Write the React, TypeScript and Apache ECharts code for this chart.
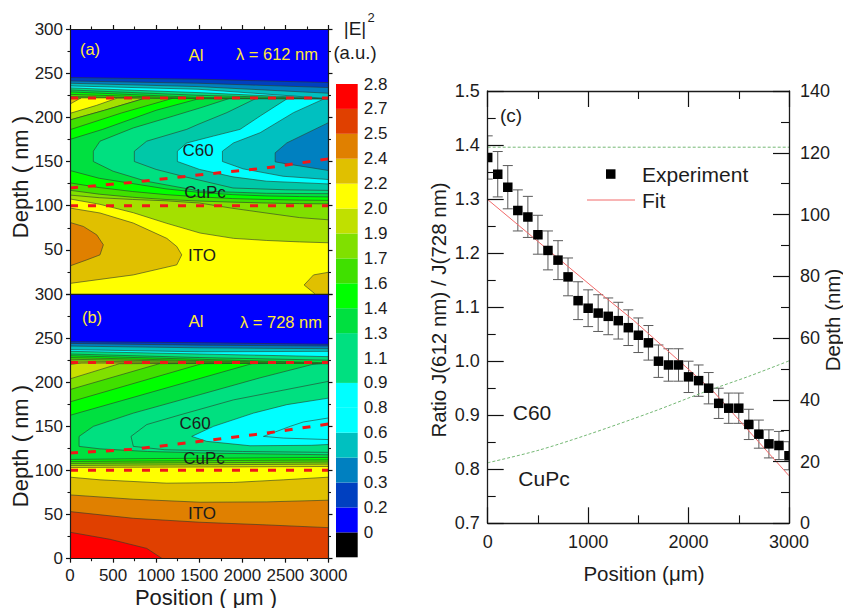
import React, { useEffect, useRef } from "react";
import * as echarts from "echarts";

type P = number[];
const FONT = "'Liberation Sans', Arial, sans-serif";
const INK = "#1c1c1c";
const YELLOW_TEXT = "#ffe838";
const LINE_TOP = 222;

// ---------- colour scale ----------
const colorbarColors = ["#000000", "#0000ff", "#0040c0", "#0080c0", "#00c0c0", "#00ffff", "#00ffff", "#00e080", "#00e080", "#00e040", "#00ff00", "#40e000", "#80e000", "#c0e000", "#ffff00", "#e0c000", "#e08000", "#e04000", "#ff0000"];
const colorbarLabels = ["", "0", "0.2", "0.3", "0.5", "0.6", "0.8", "0.9", "1.1", "1.3", "1.4", "1.6", "1.7", "1.9", "2.0", "2.2", "2.4", "2.5", "2.7", "2.8"];

// ---------- panel (a), lambda = 612 nm : [position, depth] ----------
const aItoBlob1: P[] = [[0, 97.3], [348, 91.7], [735, 80.3], [1123, 63], [1239, 53.8], [1297, 44.3], [1239, 33], [735, 21.6], [0, 12]];
const aItoBlob2: P[] = [[0, 81], [155, 76.5], [310, 67], [387, 55.7], [348, 44.3], [194, 38.6], [0, 31.8]];
const aCornerBlob: P[] = [[3000, 24.6], [2826, 21.6], [2717, 10.2], [2845, 0], [3000, 0]];

const aLowYellow: P[] = [[0, 107.6], [348, 101.5], [735, 92], [1123, 80], [1510, 69], [1897, 63], [2284, 60.6], [2663, 59], [3000, 58]];
const aLow80: P[] = [[0, 112], [340, 109], [728, 107], [1115, 105.5], [1501, 103], [1889, 97], [2276, 91.7], [2663, 86.5], [3000, 84]];
const aLow40: P[] = [[0, 117.4], [340, 113], [728, 109.5], [1115, 107], [1501, 105.2], [1889, 104], [2276, 103], [2663, 102.3], [3000, 102]];
const aLow00: P[] = [[0, 125.8], [340, 120.5], [728, 116], [1115, 112.5], [1501, 110], [1889, 108], [2276, 107], [2663, 106.3], [3000, 106]];
const aLowE040: P[] = [[0, 139.8], [340, 131], [728, 125], [1115, 119], [1501, 115], [1889, 112.5], [2276, 111], [2663, 110.3], [3000, 109.9]];
const aLowA1: P[] = [[271, 150], [500, 139], [884, 127.7], [1504, 116.6], [2280, 114], [3000, 113.6]];
const aLowA2: P[] = [[747, 150], [1000, 141], [1310, 133.3], [1892, 120], [2500, 118], [3000, 117.3]];
const aLowA3: P[] = [[1246, 150], [1504, 141], [1892, 132.6], [2280, 127.7], [3000, 124.6]];
const aLowA4: P[] = [[1769, 150], [2008, 141.7], [2473, 133.3], [3000, 129.6]];
const aLowA5: P[] = [[2381, 149.6], [2516, 147.3], [3000, 139.8]];

const aArmCorner: P[] = [[0, 215], [128, 222]];
const aArmYellow: P[] = [[0, 204.5], [310, 213.6], [554, 222]];
const aArm197: P[] = [[0, 197], [400, 208], [883, 222]];
const aArm186: P[] = [[0, 186], [600, 205], [1208, 222]];
const aArm175: P[] = [[0, 175], [380, 186.4], [1000, 208], [1530, 222]];
const aArmA1: P[] = [[271, 161.7], [348, 173], [735, 188], [1200, 201.5], [1521, 211], [1870, 222]];
const aArmA2: P[] = [[747, 161.7], [890, 173], [1355, 186.4], [1486, 192], [1820, 205.3], [2172, 222]];
const aArmA3: P[] = [[1246, 161.7], [1355, 171], [1665, 178.8], [1974, 186.4], [2207, 201.5], [2535, 222]];
const aArmA4: P[] = [[1769, 161.7], [1897, 171], [2207, 182.6], [2594, 205.3], [2973, 222]];
const aArmA5: P[] = [[2381, 159.8], [2516, 171], [3000, 194]];

const aTopPos = [0, 1486, 3000];
const aTopColors = ["#40e000", "#00ff00", "#00e040", "#00e080", "#00ffff", "#00c0c0", "#0080c0", "#0040c0", "#0000ff"];
const aTopDepths = [
  [223.5, 221, 221], [226, 221.5, 221], [228.8, 222.5, 221], [231, 225, 221], [233.3, 228, 221.2],
  [235.6, 231.8, 221.3], [238.6, 234.8, 227.3], [241.2, 238.6, 233.7], [245, 243.2, 239.4],
];
const aDashTop: P[] = [[0, 222], [3000, 222]];
const aDashMid: P[] = [[0, 120], [735, 126.5], [1510, 135], [2284, 142.8], [3000, 153]];
const aDashLow: P[] = [[0, 100], [3000, 100]];

// ---------- panel (b), lambda = 728 nm ----------
const bRedBlob: P[] = [[0, 30], [465, 22], [890, 11.7], [1072, 0], [0, 0]];
const bIto: P[][] = [
  [[0, 53.4], [735, 45.8], [1510, 41.3], [2284, 38.3], [3000, 35.2]],
  [[0, 72.3], [735, 67.4], [1510, 64], [2284, 64.4], [3000, 66.3]],
  [[0, 92.4], [348, 89.4], [1123, 85.6], [1897, 86.4], [2477, 89.4], [3000, 92.4]],
];
const bItoColors = ["#e08000", "#e0c000", "#ffff00"];

const bLowC0: P[] = [[0, 103.4], [3000, 104.5]];
const bLow80: P[] = [[0, 105.7], [3000, 107.2]];
const bLow40: P[] = [[0, 108], [3000, 109.5]];
const bLow00: P[] = [[0, 110.2], [3000, 112]];
const bLowE040: P[] = [[0, 112.5], [1000, 113.5], [3000, 114.8]];
const bLowA1: P[] = [[105, 127.3], [348, 124.5], [900, 121.5], [1700, 119.5], [3000, 117.8]];
const bLowA2: P[] = [[735, 127.3], [1100, 123.5], [2000, 121.5], [3000, 120.5]];
const bLowA3: P[] = [[1413, 138.6], [1587, 133], [2090, 128], [2800, 128.5], [3000, 129.5]];
const bLowA4: P[] = [[2245, 138.6], [2477, 136.7], [3000, 135]];

const bArmC0: P[] = [[0, 220], [135, 222]];
const bArm80: P[] = [[0, 203.8], [573, 221]];
const bArm40: P[] = [[0, 191.7], [1037, 221]];
const bArm00: P[] = [[0, 177.7], [1529, 221]];
const bArmE040: P[] = [[0, 162.5], [2110, 221]];
const bArmA1: P[] = [[105, 138.6], [271, 150], [735, 165], [1510, 186], [2206, 205], [2806, 220]];
const bArmA2: P[] = [[708, 138.6], [890, 152], [1277, 163], [1897, 180], [3000, 201]];
const bArmA3: P[] = [[1665, 150], [2129, 165], [2516, 174.6], [3000, 182]];
const bArmA4: P[] = [[2555, 150], [2710, 155], [3000, 159.5]];

const bTopPos = [0, 1500, 3000];
const bTopColors = ["#80e000", "#40e000", "#00ff00", "#00e040", "#00e080", "#00ffff", "#00c0c0", "#0080c0", "#0040c0", "#0000ff"];
const bTopDepths = [
  [224, 222.5, 221], [226, 223.5, 221], [228, 224.5, 221.5], [230, 226, 222], [232, 228, 225],
  [235, 232, 229], [237, 234.5, 235], [241, 239, 238], [244, 242, 241], [246, 244.8, 243],
];
const bDashTop: P[] = [[0, 222.5], [3000, 222.5]];
const bDashMid: P[] = [[0, 119.7], [735, 124], [1510, 133], [2284, 142.4], [3000, 152.6]];
const bDashLow: P[] = [[0, 100.3], [3000, 100.3]];

// ---------- panel (c) ----------
const positions = [0, 100, 200, 300, 400, 500, 600, 700, 800, 900, 1000, 1100, 1200, 1300, 1400, 1500, 1600, 1700, 1800, 1900, 2000, 2100, 2200, 2300, 2400, 2500, 2600, 2700, 2800, 2900, 3000];
const ratios = [1.377, 1.346, 1.322, 1.279, 1.267, 1.234, 1.205, 1.187, 1.156, 1.112, 1.098, 1.089, 1.083, 1.075, 1.062, 1.048, 1.034, 1.0, 0.993, 0.993, 0.971, 0.964, 0.95, 0.922, 0.913, 0.913, 0.883, 0.865, 0.847, 0.844, 0.825];
const errors = [0.04, 0.042, 0.04, 0.038, 0.038, 0.036, 0.036, 0.036, 0.035, 0.035, 0.034, 0.034, 0.034, 0.034, 0.033, 0.032, 0.032, 0.03, 0.03, 0.03, 0.029, 0.029, 0.029, 0.028, 0.028, 0.028, 0.028, 0.026, 0.026, 0.026, 0.026];
const fitLine: P[] = [[0, 1.299], [1118, 1.126], [1450, 1.076], [2247, 0.944], [3000, 0.788]];
const depthTop: P[] = [[0, 121.8], [3000, 121.8]];
const depthInterface: P[] = [[0, 19.6], [500, 23.6], [986, 28.6], [1650, 36.2], [2147, 42.4], [2600, 47.6], [3000, 52.6]];

// ---------- helpers ----------
type Region = { pts: P[]; fill: string };
const loop = (low: P[], arm: P[], fill: string, close = true): Region => ({
  pts: [...[...low].reverse(), ...arm, ...(close ? [[3000, LINE_TOP]] : [])],
  fill,
});
const stack = (low: P[], fill: string): Region => ({ pts: [...low, [3000, 300], [0, 300]], fill });
const curve = (xs: number[], ds: number[]): P[] => xs.map((x, i) => [x, ds[i]]);

const regionsA: Region[] = [
  { pts: [[0, 0], [3000, 0], [3000, 300], [0, 300]], fill: "#ffff00" },
  { pts: aItoBlob1, fill: "#e0c000" },
  { pts: aItoBlob2, fill: "#e08000" },
  { pts: aCornerBlob, fill: "#e0c000" },
  loop(aLowYellow, aArmYellow, "#a4e000"),
  loop(aLow80, aArm197, "#80e000"),
  loop(aLow40, aArm197, "#40e000"),
  loop(aLow00, aArm186, "#00ff00"),
  loop(aLowE040, aArm175, "#00e040"),
  loop(aLowA1, aArmA1, "#00e080"),
  loop(aLowA2, aArmA2, "#00c8a8"),
  loop(aLowA3, aArmA3, "#00ffff"),
  loop(aLowA4, aArmA4, "#00c0c0"),
  loop(aLowA5, aArmA5, "#0080c0", false),
  { pts: [[0, 215], ...aArmCorner.slice(1), [0, 222]], fill: "#e0c000" },
  stack([[0, LINE_TOP], [3000, LINE_TOP]], "#60d000"),
  ...aTopColors.map((c, i) => stack(curve(aTopPos, aTopDepths[i]), c)),
];

const regionsB: Region[] = [
  { pts: [[0, 0], [3000, 0], [3000, 300], [0, 300]], fill: "#e04000" },
  { pts: bRedBlob, fill: "#ff0000" },
  ...bItoColors.map((c, i) => stack(bIto[i], c)),
  loop(bLowC0, bArmC0, "#c8e000"),
  loop(bLow80, bArm80, "#80e000"),
  loop(bLow40, bArm40, "#40e000"),
  loop(bLow00, bArm00, "#00ff00"),
  loop(bLowE040, bArmE040, "#00e040"),
  loop(bLowA1, bArmA1, "#00e080"),
  loop(bLowA2, bArmA2, "#00e080", false),
  loop(bLowA3, bArmA3, "#00ffff", false),
  loop(bLowA4, bArmA4, "#00ffff", false),
  stack([[0, LINE_TOP], [3000, LINE_TOP]], "#c0e000"),
  ...bTopColors.map((c, i) => stack(curve(bTopPos, bTopDepths[i]), c)),
];

const contourSeries = (regions: Region[], idx: number) => ({
  type: "custom",
  xAxisIndex: idx,
  yAxisIndex: idx,
  clip: true,
  silent: true,
  z: 2,
  data: regions.map((_, i) => [i, 0]),
  renderItem: (params: any, api: any) => {
    const r = regions[params.dataIndex];
    return {
      type: "polygon",
      shape: { points: r.pts.map((p) => api.coord(p)) },
      style: { fill: r.fill, stroke: "#2c3a2c", lineWidth: 0.6 },
    };
  },
});

// grid boxes
const boxA = { left: 70, top: 29, width: 258.5, height: 265 };
const boxB = { left: 70, top: 294, width: 258.5, height: 264.7 };
const boxC = { left: 487.7, top: 91, width: 301.3, height: 432.3 };
const boxBar = { left: 336, top: 84, width: 21.7, height: 473.3 };

const dash = (data: P[], idx: number) => ({
  type: "line",
  xAxisIndex: idx,
  yAxisIndex: idx,
  data,
  symbol: "none",
  silent: true,
  z: 5,
  lineStyle: { color: "#f01818", width: 3, type: [8, 10] },
});

const tickFont = (size: number) => ({ show: true, fontFamily: FONT, fontSize: size, color: INK });
const plain = (v: number) => String(v);

const axisBase = (width: number) => ({
  type: "value",
  z: 10,
  splitLine: { show: false },
  axisLine: { show: true, onZero: false, lineStyle: { color: INK, width } },
  axisTick: { show: false },
  minorTick: { show: false },
  axisLabel: { show: false },
});
const contourX = (grid: number, position: string, opts: any = {}) => ({
  ...axisBase(1.2), gridIndex: grid, position, min: 0, max: 3000, interval: 500, ...opts,
});
const contourY = (grid: number, position: string, opts: any = {}) => ({
  ...axisBase(1.2), gridIndex: grid, position, min: 0, max: 300, interval: 50, ...opts,
});

const label = (text: string, x: number, y: number, size: number, fill = INK, rotate = 0, align = "center") => ({
  type: "text",
  x,
  y,
  rotation: rotate,
  z: 30,
  silent: true,
  style: { text, fill, fontSize: size, fontFamily: FONT, align, verticalAlign: "middle" },
});

// ---------- transparent second chart on top: native axis ticks only ----------
const tickAxis = (grid: number, position: string, min: number, max: number, interval: number, major: number, minor: number, inside: boolean) => ({
  type: "value",
  gridIndex: grid,
  position,
  min,
  max,
  interval,
  splitLine: { show: false },
  axisLine: { show: false, onZero: false },
  axisLabel: { show: false },
  axisTick: { show: true, inside, length: major, lineStyle: { color: "#111111", width: 1.2 } },
  minorTick: { show: true, splitNumber: 2, length: minor, lineStyle: { color: "#111111", width: 1.1 } },
});
const noTickAxis = (grid: number, position: string, min: number, max: number) => ({
  type: "value",
  gridIndex: grid,
  position,
  min,
  max,
  splitLine: { show: false },
  axisLine: { show: false, onZero: false },
  axisLabel: { show: false },
  axisTick: { show: false },
  minorTick: { show: false },
});
const buildTickOption = () => ({
  animation: false,
  grid: [boxA, boxB, boxC],
  xAxis: [
    tickAxis(0, "top", 0, 3000, 500, 4, 2.5, false),
    tickAxis(1, "bottom", 0, 3000, 500, 4, 2.5, false),
    tickAxis(2, "bottom", 0, 3000, 1000, 16, 8, true),
    tickAxis(2, "top", 0, 3000, 1000, 16, 8, true),
  ],
  yAxis: [
    tickAxis(0, "left", 0, 300, 50, 4, 2.5, false),
    tickAxis(0, "right", 0, 300, 50, 4, 2.5, false),
    tickAxis(1, "left", 0, 300, 50, 4, 2.5, false),
    tickAxis(1, "right", 0, 300, 50, 4, 2.5, false),
    tickAxis(2, "left", 0.7, 1.5, 0.1, 16, 8, true),
    tickAxis(2, "right", 0, 140, 20, 16, 8, true),
  ],
  series: [
    { type: "line", xAxisIndex: 0, yAxisIndex: 0, data: [], silent: true },
    { type: "line", xAxisIndex: 0, yAxisIndex: 1, data: [], silent: true },
    { type: "line", xAxisIndex: 1, yAxisIndex: 2, data: [], silent: true },
    { type: "line", xAxisIndex: 1, yAxisIndex: 3, data: [], silent: true },
    { type: "line", xAxisIndex: 2, yAxisIndex: 4, data: [], silent: true },
    { type: "line", xAxisIndex: 3, yAxisIndex: 5, data: [], silent: true },
  ],
});

const buildOption = () => ({
  animation: false,
  backgroundColor: "#ffffff",
  textStyle: { fontFamily: FONT },
  grid: [boxA, boxB, boxC, boxBar],
  xAxis: [
    contourX(0, "bottom"),
    contourX(0, "top"),
    contourX(1, "bottom", { axisLabel: { ...tickFont(17), margin: 8, formatter: plain } }),
    contourX(1, "top"),
    { ...axisBase(1.3), gridIndex: 2, position: "bottom", min: 0, max: 3000, interval: 1000, axisLabel: { ...tickFont(18), margin: 10, formatter: plain } },
    { ...axisBase(1.3), gridIndex: 2, position: "top", min: 0, max: 3000, interval: 1000 },
    { type: "value", gridIndex: 3, min: 0, max: 1, show: false },
  ],
  yAxis: [
    contourY(0, "left", { axisLabel: { ...tickFont(17), margin: 7, formatter: (v: number) => (v === 0 ? "" : String(v)) } }),
    contourY(0, "right"),
    contourY(1, "left", { axisLabel: { ...tickFont(17), margin: 7 } }),
    contourY(1, "right"),
    { ...axisBase(1.3), gridIndex: 2, position: "left", min: 0.7, max: 1.5, interval: 0.1, axisLabel: { ...tickFont(18), margin: 8, formatter: (v: number) => v.toFixed(1) } },
    { ...axisBase(1.3), gridIndex: 2, position: "right", min: 0, max: 140, interval: 20, axisLabel: { ...tickFont(18), margin: 11 } },
    {
      type: "value",
      gridIndex: 3,
      position: "right",
      min: 0,
      max: 19,
      interval: 1,
      splitLine: { show: false },
      axisLine: { show: false },
      axisTick: { show: false },
      axisLabel: { ...tickFont(17), margin: 6, padding: [3, 0, 0, 0], formatter: (v: number) => colorbarLabels[v] ?? "" },
    },
  ],
  series: [
    contourSeries(regionsA, 0),
    dash(aDashTop, 0),
    dash(aDashMid, 0),
    dash(aDashLow, 0),
    contourSeries(regionsB, 2),
    dash(bDashTop, 2),
    dash(bDashMid, 2),
    dash(bDashLow, 2),
    {
      type: "custom",
      xAxisIndex: 6,
      yAxisIndex: 6,
      silent: true,
      data: colorbarColors.map((_, i) => [0, i]),
      renderItem: (params: any, api: any) => {
        const i = params.dataIndex;
        const a = api.coord([0, i]);
        const b = api.coord([1, i + 1]);
        return { type: "rect", shape: { x: a[0], y: b[1], width: b[0] - a[0], height: a[1] - b[1] }, style: { fill: colorbarColors[i] } };
      },
    },
    {
      type: "custom",
      xAxisIndex: 4,
      yAxisIndex: 4,
      clip: true,
      silent: true,
      z: 3,
      data: positions.map((x, i) => [x, ratios[i] - errors[i], ratios[i] + errors[i]]),
      renderItem: (_: any, api: any) => {
        const lo = api.coord([api.value(0), api.value(1)]);
        const hi = api.coord([api.value(0), api.value(2)]);
        const s = { stroke: "#5a5a5a", lineWidth: 1 };
        return {
          type: "group",
          children: [
            { type: "line", shape: { x1: lo[0], y1: lo[1], x2: hi[0], y2: hi[1] }, style: s },
            { type: "line", shape: { x1: lo[0] - 5, y1: lo[1], x2: lo[0] + 5, y2: lo[1] }, style: s },
            { type: "line", shape: { x1: hi[0] - 5, y1: hi[1], x2: hi[0] + 5, y2: hi[1] }, style: s },
          ],
        };
      },
    },
    {
      name: "Fit",
      type: "line",
      xAxisIndex: 4,
      yAxisIndex: 4,
      data: fitLine,
      symbol: "none",
      z: 4,
      lineStyle: { color: "#f26a6a", width: 1 },
    },
    {
      name: "Experiment",
      type: "custom",
      xAxisIndex: 4,
      yAxisIndex: 4,
      clip: true,
      silent: true,
      z: 5,
      data: positions.map((x, i) => [x, ratios[i]]),
      renderItem: (_: any, api: any) => {
        const c = api.coord([api.value(0), api.value(1)]);
        return { type: "rect", shape: { x: c[0] - 4.75, y: c[1] - 4.75, width: 9.5, height: 9.5 }, style: { fill: "#000000" } };
      },
    },
    { type: "line", xAxisIndex: 5, yAxisIndex: 5, data: depthTop, symbol: "none", z: 3, lineStyle: { color: "#74b874", width: 1, type: [3, 2] } },
    { type: "line", xAxisIndex: 5, yAxisIndex: 5, data: depthInterface, symbol: "none", smooth: 0.3, z: 3, lineStyle: { color: "#74b874", width: 1, type: [3, 2] } },
  ],
  graphic: [
    label("(a)", 90, 49, 16.5, YELLOW_TEXT),
    label("Al", 196, 55, 17, YELLOW_TEXT),
    label("λ = 612 nm", 277, 54, 16.5, YELLOW_TEXT),
    label("C60", 198, 150, 17),
    label("CuPc", 205, 192, 17),
    label("ITO", 202, 255, 17),
    label("(b)", 92, 317, 16.5, YELLOW_TEXT),
    label("Al", 196, 321, 17, YELLOW_TEXT),
    label("λ = 728 nm", 281, 322, 16.5, YELLOW_TEXT),
    label("C60", 195, 423, 17),
    label("CuPc", 204, 458, 17),
    label("ITO", 202, 513, 17),
    label("Depth ( nm )", 20, 177, 22, INK, Math.PI / 2),
    label("Depth ( nm )", 20, 446, 22, INK, Math.PI / 2),
    label("Position ( μm )", 206, 597, 22),
    label("|E|", 355, 28, 19),
    label("2", 371, 17, 13),
    label("(a.u.)", 355, 52, 18.5),
    label("(c)", 511, 115, 19),
    label("C60", 532, 412, 21),
    label("CuPc", 544, 478, 21),
    label("Position (μm)", 644, 573, 20.5),
    label("Ratio J(612 nm) / J(728 nm)", 438, 310, 20.5, INK, Math.PI / 2),
    label("Depth (nm)", 832, 320, 20.5, INK, Math.PI / 2),
    { type: "rect", z: 30, silent: true, shape: { x: 606, y: 169.3, width: 9.5, height: 9.5 }, style: { fill: "#000000" } },
    { type: "line", z: 30, silent: true, shape: { x1: 587, y1: 200, x2: 635, y2: 200 }, style: { stroke: "#f26a6a", lineWidth: 1 } },
    label("Experiment", 642, 174, 21, INK, 0, "left"),
    label("Fit", 642, 200, 21, INK, 0, "left"),
  ],
});

const layer: React.CSSProperties = { position: "fixed", left: 0, top: 0, width: 843, height: 608 };

export default function App() {
  const ref = useRef<HTMLDivElement>(null);
  const tickRef = useRef<HTMLDivElement>(null);
  useEffect(() => {
    const chart = echarts.init(ref.current!, undefined, { renderer: "svg" });
    chart.setOption(buildOption() as any);
    const ticks = echarts.init(tickRef.current!, undefined, { renderer: "svg" });
    ticks.setOption(buildTickOption() as any);
    return () => {
      ticks.dispose();
      chart.dispose();
    };
  }, []);
  return (
    <>
      <div ref={ref} style={layer} />
      <div ref={tickRef} style={{ ...layer, pointerEvents: "none" }} />
    </>
  );
}
